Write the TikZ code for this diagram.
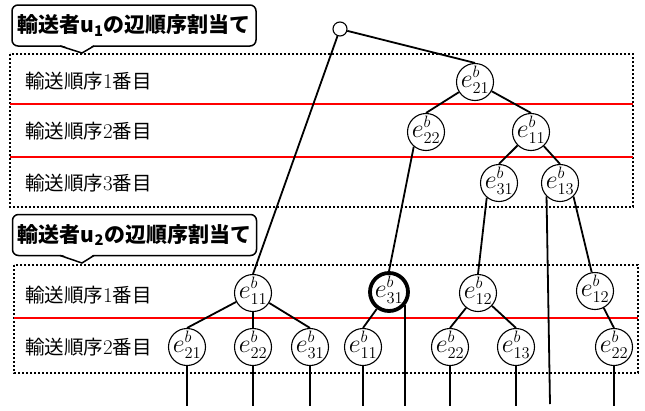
\RequirePackage{fix-cm}
\documentclass[tikz,border=0pt]{standalone}
\usepackage{fontspec}
\newfontfamily\jp{Noto Sans CJK JP}
\DeclareMathSizes{26}{26}{16.5}{12}
\newcommand{\eb}[1]{\raisebox{-5pt}[0pt][0pt]{\makebox[0pt]{$e^{b}_{#1}$}}}
\begin{document}
\begin{tikzpicture}[x=1pt,y=-1pt,
  ev/.style={circle,draw,fill=white,line width=1.1pt,minimum size=37pt,inner sep=0pt,font=\fontsize{26}{30}\selectfont},
  rootnode/.style={circle,draw,fill=white,line width=1.1pt,minimum size=14pt,inner sep=0pt},
  edge/.style={line width=1.8pt},
  dotbox/.style={line width=1.8pt,dash pattern=on 2pt off 2pt},
  redl/.style={line width=1.8pt,red},
  lab/.style={anchor=west,inner sep=0pt,font=\fontsize{19.5}{24}\selectfont},
  titlebox/.style={draw,fill=white,rounded corners=6pt,line width=1.5pt,minimum width=244pt,minimum height=41pt,inner sep=0pt,font=\jp\bfseries\fontsize{21}{24}\selectfont},
  ptr/.style={line width=1.5pt}]
\useasboundingbox (0,0) rectangle (645,410);
% boxes and red lines
\draw[dotbox] (10,54) rectangle (633,207);
\draw[dotbox] (14,265) rectangle (638,373);
\draw[redl] (10,104) -- (633,104);
\draw[redl] (10,157) -- (633,157);
\draw[redl] (14,318) -- (638,318);
% titles
\node[titlebox] (t1) at (134,25.5) {輸送者u\textsubscript{1}の辺順序割当て};
\fill[white] (60,44.5) -- (82,53) -- (94,44.5) -- cycle;
\draw[ptr] (60,46) -- (82,53) -- (94,46);
\node[titlebox] (t2) at (134.5,235) {輸送者u\textsubscript{2}の辺順序割当て};
\fill[white] (60,254) -- (82,263) -- (94,254) -- cycle;
\draw[ptr] (60,255.5) -- (82,263) -- (94,255.5);
% labels
\node[lab] (l1) at (25,81) {{\jp 輸送順序}{\fontsize{21}{24}\selectfont 1}{\jp 番目}};
\node[lab] (l2) at (25,131) {{\jp 輸送順序}{\fontsize{21}{24}\selectfont 2}{\jp 番目}};
\node[lab] (l3) at (25,183) {{\jp 輸送順序}{\fontsize{21}{24}\selectfont 3}{\jp 番目}};
\node[lab] (l4) at (25,295) {{\jp 輸送順序}{\fontsize{21}{24}\selectfont 1}{\jp 番目}};
\node[lab] (l5) at (25,347) {{\jp 輸送順序}{\fontsize{21}{24}\selectfont 2}{\jp 番目}};
% nodes
\node[rootnode] (r) at (340,29) {};
\node[ev] (a21) at (475,82) {\eb{21}};
\node[ev] (a22) at (426,132) {\eb{22}};
\node[ev] (a11) at (531,132) {\eb{11}};
\node[ev] (a31) at (499,183) {\eb{31}};
\node[ev] (a13) at (560,183) {\eb{13}};
\node[ev] (b11) at (253,293) {\eb{11}};
\node[ev,line width=3.8pt,minimum size=38pt] (b31) at (389,292) {\eb{31}};
\node[ev] (b12) at (478,293) {\eb{12}};
\node[ev] (b12r) at (595,291) {\eb{12}};
\node[ev] (c21) at (187,347) {\eb{21}};
\node[ev] (c22) at (253,347) {\eb{22}};
\node[ev] (c31) at (310,347) {\eb{31}};
\node[ev] (c11) at (363,347) {\eb{11}};
\node[ev] (c22b) at (450,347) {\eb{22}};
\node[ev] (c13) at (516,347) {\eb{13}};
\node[ev] (c22c) at (614,347) {\eb{22}};
% connectors
\coordinate (bot) at (0,406);
\coordinate (l13) at (550,404);
\draw[edge] (r) -- (a21.north);
\draw[edge] (r) -- (b11.north);
\draw[edge] (a21) -- (a22.north);
\draw[edge] (a21) -- (a11.north);
\draw[edge] (a11) -- (a31.north);
\draw[edge] (a11) -- (a13.north);
\draw[edge] (a22.-130) -- (b31.north);
\draw[edge] (a31.-130) -- (b12.north);
\draw[edge] (a13.-45) -- (b12r.100);
\draw[edge] (a13.-135) -- (l13);
\draw[edge] (b11) -- (c21.north);
\draw[edge] (b11) -- (c22.north);
\draw[edge] (b11) -- (c31.north);
\draw[edge] (b31) -- (c11.north);
\draw[edge] (b31.-40) -- (b31.-40 |- bot);
\draw[edge] (b12) -- (c22b.north);
\draw[edge] (b12) -- (c13.north);
\draw[edge] (b12r) -- (c22c.north);
\foreach \n in {c21,c22,c31,c11,c22b,c13,c22c}
  \draw[edge] (\n.south) -- (\n.south |- bot);
\end{tikzpicture}
\end{document}
